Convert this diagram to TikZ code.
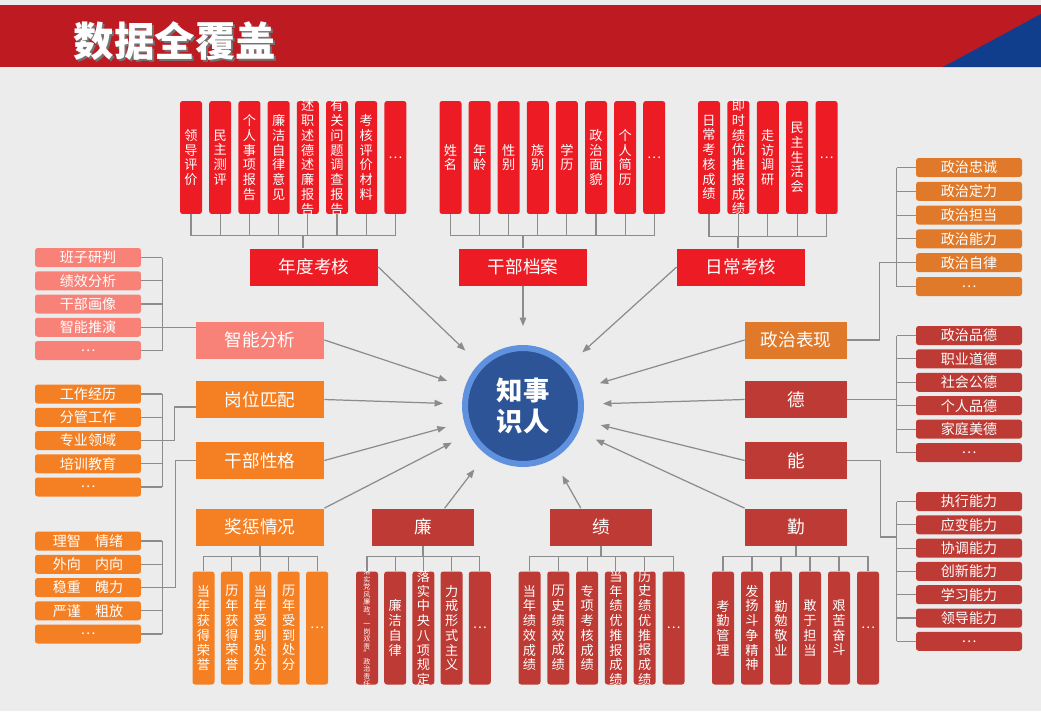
\documentclass[tikz,border=0pt]{standalone}
\usepackage{fontspec}
\setmainfont{Noto Sans CJK SC}
\usetikzlibrary{arrows.meta}

\definecolor{bgc}{RGB}{236,236,236}
\definecolor{titlered}{RGB}{190,26,34}
\definecolor{titleblue}{RGB}{16,62,140}
\definecolor{brightred}{RGB}{237,27,36}
\definecolor{pinkc}{RGB}{249,130,120}
\definecolor{orangec}{RGB}{245,128,36}
\definecolor{ochre}{RGB}{224,122,42}
\definecolor{darkred}{RGB}{190,58,52}
\definecolor{linegray}{RGB}{140,140,140}
\definecolor{ringblue}{RGB}{95,145,222}
\definecolor{coreblue}{RGB}{44,84,150}

% one character per line
\def\vtstop{}
\def\vtgob#1{}
\def\vt#1{\expandafter\vtloop#1\vtstop}
\def\vtloop#1#2{#1\ifx#2\vtstop\expandafter\vtgob\else\expandafter\vtnext\fi#2}
\def\vtnext{\\\vtloop}

\tikzset{
  vbox/.style={rounded corners=1.5pt, minimum width=0.44cm, minimum height=2.26cm, inner sep=0pt},
  vtxt/.style={text=white, align=center, inner sep=0pt, font=\fontsize{7.5}{8.4}\selectfont},
  lbl/.style={minimum width=2.56cm, minimum height=0.74cm, inner sep=0pt, text=white, font=\fontsize{10}{10}\selectfont},
  lbls/.style={lbl, minimum width=2.04cm},
  item/.style={rounded corners=1.5pt, minimum width=2.12cm, minimum height=0.38cm, inner sep=0pt, text=white, font=\fontsize{8}{8}\selectfont},
  link/.style={draw=linegray, line width=0.6pt},
  feed/.style={draw=linegray, line width=0.7pt, -{Triangle[length=1.7mm,width=1.3mm]}, shorten >=0.38cm},
  titletxt/.style={text=white, font=\bfseries\fontsize{23}{23}\selectfont},
}

\begin{document}
\begin{tikzpicture}[x=0.02cm,y=-0.02cm]
        %%% Background %%%
        \fill[bgc] (0,0) rectangle (1041,711);
        \useasboundingbox (0,0) rectangle (1041,711);
        \fill[titlered] (0,5) rectangle (1041,67);
        \fill[titleblue] (943,67) -- (1041,14) -- (1041,67) -- cycle;
        \node[titletxt, text=black!55] at (177,43) {数据全覆盖};
        \node[titletxt] (title) at (175,41) {数据全覆盖};

        %%% Center %%%
        \node[circle, fill=coreblue, draw=ringblue, line width=0.12cm, minimum size=2.32cm, inner sep=0pt,
              text=white, align=center, font=\bfseries\fontsize{15}{18}\selectfont] (zs) at (523,406) {知事\\识人};

        %%% 年度考核 %%%
        \node[lbl, fill=brightred] (ndkh) at (314,267) {年度考核};
        \foreach \txt [count=\i] in {领导评价,民主测评,个人事项报告,廉洁自律意见,述职述德述廉报告,有关问题调查报告,考核评价材料,…}
          \node[vbox, fill=brightred, label={[vtxt]center:\vt{\txt}}] (nk\i) at ({191+(\i-1)*29.2},157.5) {};
        \draw[link] (nk1.south) -- ++(0,21) -| (nk8.south);
        \foreach \i in {2,...,7} \draw[link] (nk\i.south) -- ++(0,21);
        \draw[link] ([xshift=-0.22cm]ndkh.north) -- ++(0,-13);

        %%% 干部档案 %%%
        \node[lbl, fill=brightred] (gbda) at (523,267) {干部档案};
        \foreach \txt [count=\i] in {姓名,年龄,性别,族别,学历,政治面貌,个人简历,…}
          \node[vbox, fill=brightred, label={[vtxt]center:\vt{\txt}}] (da\i) at ({450.5+(\i-1)*29.1},157.5) {};
        \draw[link] (da1.south) -- ++(0,21) -| (da8.south);
        \foreach \i in {2,...,7} \draw[link] (da\i.south) -- ++(0,21);
        \draw[link] (gbda.north) -- ++(0,-13);

        %%% 日常考核 %%%
        \node[lbl, fill=brightred] (rckh) at (741,267) {日常考核};
        \foreach \txt [count=\i] in {日常考核成绩,即时绩优推报成绩,走访调研,民主生活会,…}
          \node[vbox, fill=brightred, label={[vtxt]center:\vt{\txt}}] (rc\i) at ({709+(\i-1)*29.4},157.5) {};
        \draw[link] (rc1.south) -- ++(0,22) -| (rc5.south);
        \foreach \i in {2,3,4} \draw[link] (rc\i.south) -- ++(0,22);
        \draw[link] ([xshift=-0.06cm]rckh.north) -- ++(0,-12);

        %%% 智能分析 %%%
        \node[lbl, fill=pinkc] (znfx) at (260,340) {智能分析};
        \foreach \txt [count=\i] in {班子研判,绩效分析,干部画像,智能推演,…}
          \node[item, fill=pinkc] (zn\i) at (88,{257.5+(\i-1)*23.25}) {\txt};
        \foreach \i in {1,...,5} \draw[link] (zn\i.east) -- ++(21,0);
        \draw[link] ([xshift=0.42cm]zn1.east) -- ([xshift=0.42cm]zn5.east);
        \draw[link] (zn4.east) -- (zn4.east -| znfx.west);

        %%% 岗位匹配 %%%
        \node[lbl, fill=orangec] (gwpp) at (260,399.5) {岗位匹配};
        \foreach \txt [count=\i] in {工作经历,分管工作,专业领域,培训教育,…}
          \node[item, fill=orangec] (gw\i) at (88,{394+(\i-1)*23.25}) {\txt};
        \foreach \i in {1,...,5} \draw[link] (gw\i.east) -- ++(21,0);
        \draw[link] ([xshift=0.42cm]gw1.east) -- ([xshift=0.42cm]gw5.east);
        \draw[link] (gw3.east) -- ++(33,0) |- ([yshift=-0.15cm]gwpp.west);

        %%% 干部性格 %%%
        \node[lbl, fill=orangec] (gbxg) at (260,460.5) {干部性格};
        \foreach \txt [count=\i] in {理智　情绪,外向　内向,稳重　魄力,严谨　粗放,…}
          \node[item, fill=orangec] (xg\i) at (88,{541+(\i-1)*23.25}) {\txt};
        \foreach \i in {1,...,5} \draw[link] (xg\i.east) -- ++(21,0);
        \draw[link] ([xshift=0.42cm]xg1.east) -- ([xshift=0.42cm]xg5.east);
        \draw[link] (gbxg.west) -- ++(-20,0) |- (xg3.east);

        %%% 奖惩情况 %%%
        \node[lbl, fill=orangec] (jcqk) at (260,527) {奖惩情况};
        \foreach \txt [count=\i] in {当年获得荣誉,历年获得荣誉,当年受到处分,历年受到处分,…}
          \node[vbox, fill=orangec, label={[vtxt]center:\vt{\txt}}] (jc\i) at ({203.5+(\i-1)*28.4},628) {};
        \draw[link] (jc1.north) -- ++(0,-15) -| (jc5.north);
        \foreach \i in {2,3,4} \draw[link] (jc\i.north) -- ++(0,-15);
        \draw[link] (jcqk.south) -- ++(0,10.5);

        %%% 廉 %%%
        \node[lbls, fill=darkred] (lian) at (423,527) {廉};
        \node[vbox, fill=darkred, label={[vtxt, font=\fontsize{4}{4.25}\selectfont]center:\vt{落实党风廉政“一岗双责”政治责任}}] (ln1) at (367,628) {};
        \foreach \txt [count=\i from 2] in {廉洁自律,落实中央八项规定,力戒形式主义,…}
          \node[vbox, fill=darkred, label={[vtxt]center:\vt{\txt}}] (ln\i) at ({367+(\i-1)*28.2},628) {};
        \draw[link] (ln1.north) -- ++(0,-15) -| (ln5.north);
        \foreach \i in {2,3,4} \draw[link] (ln\i.north) -- ++(0,-15);
        \draw[link] (lian.south) -- ++(0,10.5);

        %%% 绩 %%%
        \node[lbls, fill=darkred] (ji) at (601,527) {绩};
        \foreach \txt [count=\i] in {当年绩效成绩,历史绩效成绩,专项考核成绩,当年绩优推报成绩,历史绩优推报成绩,…}
          \node[vbox, fill=darkred, label={[vtxt]center:\vt{\txt}}] (jx\i) at ({529.5+(\i-1)*28.8},628) {};
        \draw[link] (jx1.north) -- ++(0,-15) -| (jx6.north);
        \foreach \i in {2,...,5} \draw[link] (jx\i.north) -- ++(0,-15);
        \draw[link] (ji.south) -- ++(0,10.5);

        %%% 勤 %%%
        \node[lbls, fill=darkred] (qin) at (796,527) {勤};
        \foreach \txt [count=\i] in {考勤管理,发扬斗争精神,勤勉敬业,敢于担当,艰苦奋斗,…}
          \node[vbox, fill=darkred, label={[vtxt]center:\vt{\txt}}] (qx\i) at ({723+(\i-1)*29},628) {};
        \draw[link] (qx1.north) -- ++(0,-15) -| (qx6.north);
        \foreach \i in {2,...,5} \draw[link] (qx\i.north) -- ++(0,-15);
        \draw[link] (qin.south) -- ++(0,10.5);

        %%% 政治表现 %%%
        \node[lbls, fill=ochre] (zzbx) at (796,340) {政治表现};
        \foreach \txt [count=\i] in {政治忠诚,政治定力,政治担当,政治能力,政治自律,…}
          \node[item, fill=ochre] (zz\i) at (969,{167.5+(\i-1)*23.8}) {\txt};
        \foreach \i in {1,...,6} \draw[link] (zz\i.west) -- ++(-19,0);
        \draw[link] ([xshift=-0.38cm]zz1.west) -- ([xshift=-0.38cm]zz6.west);
        \draw[link] (zzbx.east) -- ++(32,0) |- (zz5.west);

        %%% 德 %%%
        \node[lbls, fill=darkred] (de) at (796,399.5) {德};
        \foreach \txt [count=\i] in {政治品德,职业道德,社会公德,个人品德,家庭美德,…}
          \node[item, fill=darkred] (dd\i) at (969,{335.5+(\i-1)*23.4}) {\txt};
        \foreach \i in {1,...,6} \draw[link] (dd\i.west) -- ++(-19,0);
        \draw[link] ([xshift=-0.38cm]dd1.west) -- ([xshift=-0.38cm]dd6.west);
        \draw[link] (de.east) -- ++(50,0);

        %%% 能 %%%
        \node[lbls, fill=darkred] (neng) at (796,460.5) {能};
        \foreach \txt [count=\i] in {执行能力,应变能力,协调能力,创新能力,学习能力,领导能力,…}
          \node[item, fill=darkred] (nl\i) at (969,{501.5+(\i-1)*23.3}) {\txt};
        \foreach \i in {1,...,7} \draw[link] (nl\i.west) -- ++(-19,0);
        \draw[link] ([xshift=-0.38cm]nl1.west) -- ([xshift=-0.38cm]nl7.west);
        \draw[link] (neng.east) -- ++(33,0) -- ++(0,76.5) -- ++(17,0);

        %%% Arrows into the center %%%
        \foreach \src in {ndkh.east,gbda.south,rckh.west,znfx.east,gwpp.east,gbxg.east,jcqk.north east,lian.41,ji.137,qin.north west,neng.west,de.west,zzbx.west}
          \draw[feed] (\src) -- (zs);
\end{tikzpicture}
\end{document}
